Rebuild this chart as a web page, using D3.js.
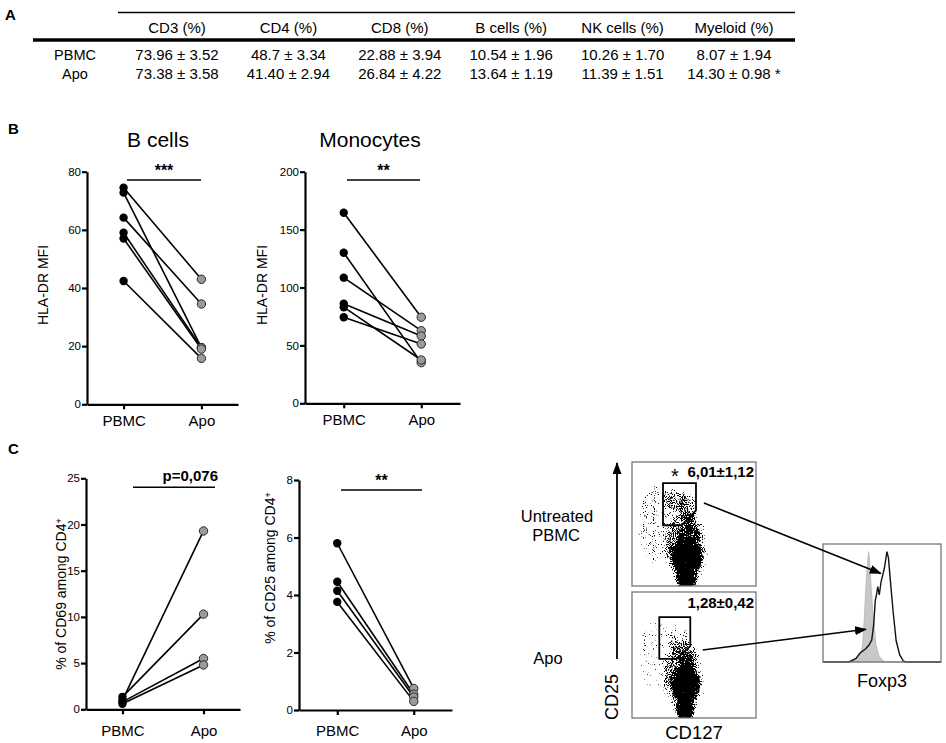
<!DOCTYPE html>
<html>
<head>
<meta charset="utf-8">
<script src="https://cdn.jsdelivr.net/npm/d3@7"></script>
<style>
  body { margin: 0; background: #fff; }
  svg { display: block; font-family: "Liberation Sans", Arial, sans-serif; }
  .axis path, .axis line { stroke: #000; stroke-width: 2.2; }
  .axis text { font-size: 11.5px; fill: #000; font-family: "Liberation Sans", Arial, sans-serif; }
  .xcat text { font-size: 15px; }
</style>
</head>
<body>
<svg id="fig" width="946" height="743"></svg>
<script>
// ---- panel A : table of subsets (% of live cells, mean ± sem)
var tableCols = ["CD3 (%)", "CD4 (%)", "CD8 (%)", "B cells (%)", "NK cells (%)", "Myeloid (%)"];
var tableRows = ["PBMC", "Apo"];
var tablePBMC = ["73.96 ± 3.52", "48.7 ± 3.34", "22.88 ± 3.94", "10.54 ± 1.96", "10.26 ± 1.70", "8.07 ± 1.94"];
var tableApo  = ["73.38 ± 3.58", "41.40 ± 2.94", "26.84 ± 4.22", "13.64 ± 1.19", "11.39 ± 1.51", "14.30 ± 0.98 *"];

// ---- panel B : HLA-DR MFI, paired donors (same index = same donor)
var groups = ["PBMC", "Apo"];
var bcellPBMC = [74.5, 72.8, 64.2, 59, 57, 42.4];
var bcellApo  = [43, 19.5, 34.5, 19.5, 19, 15.8];
var monoPBMC  = [164.6, 130, 108.5, 86, 83, 74.3];
var monoApo   = [74.3, 35.1, 62.7, 58.1, 37.4, 51.2];

// ---- panel C : activation markers on CD4+
var cd69PBMC = [1.0, 1.35, 0.8, 0.6];
var cd69Apo  = [19.3, 10.3, 5.5, 4.8];
var cd25PBMC = [5.8, 4.46, 4.15, 3.76];
var cd25Apo  = [0.75, 0.55, 0.45, 0.3];

// flow plots, CD127 (x) vs CD25 (y) on a 0-100 display scale
// each population = centre, half widths, density of events
var untreatedPops = [
  {cd127: 44, cd25: 6,  rx: 8,  ry: 10, dens: 1},
  {cd127: 44, cd25: 24, rx: 12, ry: 14, dens: 1},
  {cd127: 46, cd25: 41, rx: 9,  ry: 9,  dens: 0.62},
  {cd127: 44, cd25: 30, rx: 17, ry: 30, dens: 0.42},
  {cd127: 45, cd25: 62, rx: 8,  ry: 12, dens: 0.48},
  {cd127: 35, cd25: 70, rx: 9,  ry: 10, dens: 0.42},
  {cd127: 20, cd25: 50, rx: 16, ry: 32, dens: 0.3}
];
var apoPops = [
  {cd127: 43, cd25: 6,  rx: 7,  ry: 10, dens: 1},
  {cd127: 43, cd25: 27, rx: 11, ry: 15, dens: 1},
  {cd127: 44, cd25: 45, rx: 7,  ry: 8,  dens: 0.58},
  {cd127: 42, cd25: 32, rx: 16, ry: 30, dens: 0.4},
  {cd127: 38, cd25: 62, rx: 9,  ry: 12, dens: 0.3},
  {cd127: 20, cd25: 50, rx: 16, ry: 30, dens: 0.24}
];
var untreatedGate = [[25, 83], [51.6, 83], [51.6, 61], [40, 49], [25, 49]];
var apoGate       = [[22, 80], [47, 80], [47, 57], [36, 47], [22, 47]];
var tregPct = ["6,01±1,12", "1,28±0,42"];

// Foxp3 histograms of the gated cells (intensity 0-100, % of max)
var foxApoX  = [0, 22, 28, 31.5, 33.6, 35, 36.4, 37.8, 38.7, 39.6, 40.7, 42.6, 44.9, 47.5, 51, 53, 100];
var foxApoY  = [0, 0, 2, 6, 14.4, 37, 65, 85, 93.5, 85, 65, 37, 14.4, 5, 1, 0, 0];
var foxUntrX = [0, 22, 28, 31.4, 36, 39, 41.3, 43, 44.3, 45.5, 46.4, 47.7, 49.2, 52, 54.2, 55.5, 57, 59.5, 62, 65, 68, 70, 100];
var foxUntrY = [0, 0, 3, 7.6, 11, 14.4, 18.6, 32, 52, 58, 63.8, 56.8, 68, 79.4, 93.5, 88, 70, 42, 18, 6, 1, 0, 0];

var svg = d3.select("#fig");
svg.append("rect").attr("width", 946).attr("height", 743).attr("fill", "#fff");

var defs = svg.append("defs");
defs.append("marker")
    .attr("id", "arrow")
    .attr("markerUnits", "userSpaceOnUse")
    .attr("markerWidth", 12).attr("markerHeight", 9)
    .attr("refX", 11).attr("refY", 4.5)
    .attr("orient", "auto")
  .append("path")
    .attr("d", "M0,0 L12,4.5 L0,9 Z")
    .attr("fill", "#000");

// speckle filter: density (blurred alpha) thresholded against fine noise -> looks like events
var filt = defs.append("filter")
    .attr("id", "speckle")
    .attr("filterUnits", "userSpaceOnUse")
    .attr("x", 0).attr("y", 0).attr("width", 946).attr("height", 743)
    .attr("color-interpolation-filters", "sRGB");
filt.append("feGaussianBlur").attr("in", "SourceAlpha").attr("stdDeviation", 2.2).attr("result", "dens");
filt.append("feTurbulence").attr("type", "fractalNoise").attr("baseFrequency", 0.9)
    .attr("numOctaves", 1).attr("seed", 4).attr("result", "noise");
filt.append("feColorMatrix").attr("in", "noise").attr("type", "matrix")
    .attr("values", "0 0 0 0 0  0 0 0 0 0  0 0 0 0 0  1 0 0 0 0").attr("result", "nA0");
var ct = filt.append("feComponentTransfer").attr("in", "nA0").attr("result", "nA");
ct.append("feFuncA").attr("type", "linear").attr("slope", 1.5).attr("intercept", -0.25);
filt.append("feComposite").attr("in", "dens").attr("in2", "nA")
    .attr("operator", "arithmetic")
    .attr("k1", 0).attr("k2", 9).attr("k3", -9).attr("k4", 0);

// ---------- panel letters
function panelLetter(t, x, y) {
  svg.append("text").attr("x", x).attr("y", y)
    .style("font-size", "15px").style("font-weight", "bold").text(t);
}
panelLetter("A", 5, 20);
panelLetter("B", 8, 134);
panelLetter("C", 8, 454);

// ---------- panel A table
var colX = d3.scalePoint().domain(tableCols).range([177, 734]);
svg.append("line").attr("x1", 118).attr("x2", 795).attr("y1", 12.5).attr("y2", 12.5)
   .attr("stroke", "#000").attr("stroke-width", 1.3);
svg.append("line").attr("x1", 33).attr("x2", 795).attr("y1", 40).attr("y2", 40)
   .attr("stroke", "#000").attr("stroke-width", 3.5);
svg.selectAll("text.thead").data(tableCols).enter().append("text")
   .attr("class", "thead")
   .attr("x", function(d) { return colX(d); }).attr("y", 33)
   .attr("text-anchor", "middle").style("font-size", "15px")
   .text(function(d) { return d; });
var rowY = [60, 79];
[tablePBMC, tableApo].forEach(function(vals, r) {
  svg.append("text").attr("x", 75).attr("y", rowY[r]).attr("text-anchor", "middle")
     .style("font-size", "14.5px").text(tableRows[r]);
  svg.selectAll("text.row" + r).data(vals).enter().append("text")
     .attr("class", "row" + r)
     .attr("x", function(d, i) { return colX(tableCols[i]); }).attr("y", rowY[r])
     .attr("text-anchor", "middle").style("font-size", "15px")
     .text(function(d) { return d; });
});

// ---------- paired dot charts
function pairChart(cfg, pbmc, apo) {
  var y = d3.scaleLinear().domain([0, cfg.max]).range([cfg.bottom, cfg.top]);
  var x = d3.scalePoint().domain(groups).range([cfg.x0, cfg.x1]).padding(cfg.pad);
  var g = svg.append("g");

  g.append("g").attr("class", "axis")
    .attr("transform", "translate(" + cfg.x0 + ",0)")
    .call(d3.axisLeft(y).tickValues(cfg.ticks).tickSize(5).tickSizeOuter(0).tickPadding(1));
  g.append("g").attr("class", "axis xcat")
    .attr("transform", "translate(0," + cfg.bottom + ")")
    .call(d3.axisBottom(x).tickSize(5).tickSizeOuter(0).tickPadding(cfg.labPad));

  var idx = d3.range(pbmc.length);
  g.selectAll("line.pair").data(idx).enter().append("line")
    .attr("class", "pair")
    .attr("x1", x("PBMC")).attr("y1", function(i) { return y(pbmc[i]); })
    .attr("x2", x("Apo")).attr("y2", function(i) { return y(apo[i]); })
    .attr("stroke", "#000").attr("stroke-width", 1.6);
  g.selectAll("circle.apo").data(apo).enter().append("circle")
    .attr("cx", x("Apo")).attr("cy", function(d) { return y(d); }).attr("r", 4.2)
    .attr("fill", "#9a9a9a").attr("stroke", "#2a2a2a").attr("stroke-width", 1);
  g.selectAll("circle.pbmc").data(pbmc).enter().append("circle")
    .attr("cx", x("PBMC")).attr("cy", function(d) { return y(d); }).attr("r", 4.2)
    .attr("fill", "#000");

  // significance bar
  g.append("line").attr("x1", cfg.sig[0]).attr("x2", cfg.sig[1])
    .attr("y1", cfg.sigY).attr("y2", cfg.sigY)
    .attr("stroke", "#000").attr("stroke-width", 1.6);
  var st = g.append("text").text(cfg.sigText).style("font-weight", "bold");
  if (cfg.sigAnchor == "end") {
    st.attr("x", cfg.sig[1] + 3).attr("y", cfg.sigY - 6).attr("text-anchor", "end").style("font-size", "15px");
  } else {
    st.attr("x", (cfg.sig[0] + cfg.sig[1]) / 2).attr("y", cfg.sigY - 4).attr("text-anchor", "middle").style("font-size", "16px");
  }

  if (cfg.title) {
    g.append("text").attr("x", cfg.titleX).attr("y", 147).attr("text-anchor", "middle")
      .style("font-size", "21px").text(cfg.title);
  }
  var yl = g.append("text")
    .attr("transform", "translate(" + cfg.ylab[0] + "," + cfg.ylab[1] + ") rotate(-90)")
    .attr("text-anchor", "middle").attr("dy", "0.35em")
    .style("font-size", "14px").text(cfg.ylabel);
  if (cfg.sup) {
    yl.append("tspan").attr("dy", "-0.45em").style("font-size", "9px").text(cfg.sup);
  }
}

pairChart({x0: 87, x1: 238, pad: 0.47, top: 171.7, bottom: 404.3, max: 80, ticks: [0, 20, 40, 60, 80],
  labPad: 6, sig: [127, 201], sigY: 180, sigText: "***", title: "B cells", titleX: 158,
  ylabel: "HLA-DR MFI", ylab: [43, 285]}, bcellPBMC, bcellApo);
pairChart({x0: 305, x1: 460, pad: 0.5, top: 171.7, bottom: 403.3, max: 200, ticks: [0, 50, 100, 150, 200],
  labPad: 6, sig: [347, 420], sigY: 180, sigText: "**", title: "Monocytes", titleX: 370,
  ylabel: "HLA-DR MFI", ylab: [262, 285]}, monoPBMC, monoApo);
pairChart({x0: 86, x1: 240, pad: 0.45, top: 478.3, bottom: 709.3, max: 25, ticks: [0, 5, 10, 15, 20, 25],
  labPad: 11, sig: [133, 215], sigY: 487.3, sigText: "p=0,076", sigAnchor: "end",
  ylabel: "% of CD69 among CD4", sup: "+", ylab: [61, 594]}, cd69PBMC, cd69Apo);
pairChart({x0: 299, x1: 452, pad: 0.5, top: 480, bottom: 710, max: 8, ticks: [0, 2, 4, 6, 8],
  labPad: 10, sig: [341, 422], sigY: 490, sigText: "**",
  ylabel: "% of CD25 among CD4", sup: "+", ylab: [270, 568]}, cd25PBMC, cd25Apo);

// ---------- flow cytometry
var boxes = [{x: 632, y: 462, w: 124, h: 124}, {x: 632, y: 592, w: 124, h: 126}];
var hist = {x: 823, y: 544, w: 118, h: 118};
var hx = d3.scaleLinear().domain([0, 100]).range([hist.x, hist.x + hist.w]);
var hy = d3.scaleLinear().domain([0, 100]).range([hist.y + hist.h, hist.y]);

function dotPlot(k, box, pops, gate) {
  var x = d3.scaleLinear().domain([0, 100]).range([box.x, box.x + box.w]);
  var y = d3.scaleLinear().domain([0, 100]).range([box.y + box.h, box.y]);
  defs.append("clipPath").attr("id", "clip" + k)
    .append("rect").attr("x", box.x).attr("y", box.y).attr("width", box.w).attr("height", box.h);
  var cloud = svg.append("g").attr("clip-path", "url(#clip" + k + ")")
    .append("g").attr("filter", "url(#speckle)");
  cloud.selectAll("ellipse").data(pops).enter().append("ellipse")
    .attr("cx", function(d) { return x(d.cd127); })
    .attr("cy", function(d) { return y(d.cd25); })
    .attr("rx", function(d) { return x(d.rx) - x(0); })
    .attr("ry", function(d) { return y(0) - y(d.ry); })
    .attr("fill", "#000").attr("fill-opacity", function(d) { return d.dens; });
  svg.append("rect").attr("x", box.x).attr("y", box.y).attr("width", box.w).attr("height", box.h)
    .attr("fill", "none").attr("stroke", "#777").attr("stroke-width", 1.3);
  svg.append("path")
    .attr("d", d3.line()(gate.map(function(p) { return [x(p[0]), y(p[1])]; })) + "Z")
    .attr("fill", "none").attr("stroke", "#000").attr("stroke-width", 1.8);
  svg.append("text").attr("x", box.x + box.w - 2).attr("y", box.y + (k == 0 ? 15 : 16))
    .attr("text-anchor", "end").style("font-size", "15px").style("font-weight", "bold")
    .text(tregPct[k]);
  return {x: x, y: y};
}
var sTop = dotPlot(0, boxes[0], untreatedPops, untreatedGate);
var sBot = dotPlot(1, boxes[1], apoPops, apoGate);
svg.append("text").attr("x", 675).attr("y", 483).attr("text-anchor", "middle")
  .style("font-size", "20px").text("*");

// histogram
svg.append("path")
  .attr("d", d3.area().x(function(d) { return hx(d[0]); }).y0(hy(0)).y1(function(d) { return hy(d[1]); })
    (foxApoX.map(function(v, i) { return [v, foxApoY[i]]; })))
  .attr("fill", "#c8c8c8").attr("stroke", "#b5b5b5").attr("stroke-width", 0.8);
svg.append("path")
  .attr("d", d3.line().x(function(d) { return hx(d[0]); }).y(function(d) { return hy(d[1]); })
    (foxUntrX.map(function(v, i) { return [v, foxUntrY[i]]; })))
  .attr("fill", "none").attr("stroke", "#111").attr("stroke-width", 1.4);
svg.append("rect").attr("x", hist.x).attr("y", hist.y).attr("width", hist.w).attr("height", hist.h)
  .attr("fill", "none").attr("stroke", "#777").attr("stroke-width", 1.3);

// arrows from gates to histogram
svg.append("line")
  .attr("x1", sTop.x(58)).attr("y1", sTop.y(67)).attr("x2", hx(49)).attr("y2", hy(75))
  .attr("stroke", "#000").attr("stroke-width", 1.6).attr("marker-end", "url(#arrow)");
svg.append("line")
  .attr("x1", sBot.x(57)).attr("y1", sBot.y(54)).attr("x2", hx(36.4)).attr("y2", hy(27.7))
  .attr("stroke", "#000").attr("stroke-width", 1.6).attr("marker-end", "url(#arrow)");

// CD25 axis arrow
svg.append("line").attr("x1", 617).attr("x2", 617).attr("y1", 659).attr("y2", 463)
  .attr("stroke", "#000").attr("stroke-width", 1.8).attr("marker-end", "url(#arrow)");
svg.append("text").attr("transform", "translate(618,697) rotate(-90)")
  .attr("text-anchor", "middle").style("font-size", "18px").text("CD25");
svg.append("text").attr("x", 694).attr("y", 739).attr("text-anchor", "middle")
  .style("font-size", "18.5px").text("CD127");
svg.append("text").attr("x", hx(50)).attr("y", 687).attr("text-anchor", "middle")
  .style("font-size", "18px").text("Foxp3");

svg.append("text").attr("x", 557).attr("y", 522).attr("text-anchor", "middle")
  .style("font-size", "16.5px").text("Untreated");
svg.append("text").attr("x", 556).attr("y", 541).attr("text-anchor", "middle")
  .style("font-size", "16.5px").text("PBMC");
svg.append("text").attr("x", 548).attr("y", 664).attr("text-anchor", "middle")
  .style("font-size", "16.5px").text("Apo");
</script>
</body>
</html>
